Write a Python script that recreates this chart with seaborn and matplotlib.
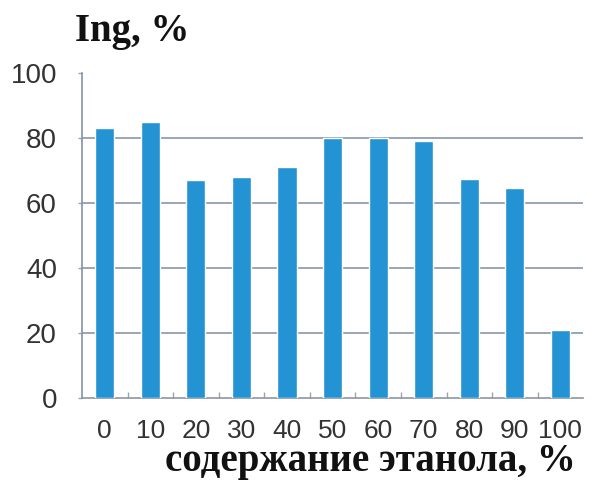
import matplotlib
matplotlib.use("Agg")
import matplotlib.pyplot as plt
import seaborn as sns
import pandas as pd

# Ethanol content (%) and inhibition values
ethanol = ["0", "10", "20", "30", "40", "50", "60", "70", "80", "90", "100"]
inhibition = [83, 85, 67, 68, 71, 80, 80, 79, 67.5, 64.5, 21]
y_ticks = [0, 20, 40, 60, 80, 100]

df = pd.DataFrame({"ethanol": ethanol, "inhibition": inhibition})

sns.set_theme(style="white")
plt.rcParams["font.family"] = ["Liberation Sans", "DejaVu Sans"]

fig = plt.figure(figsize=(6.01, 4.84), dpi=100)
ax = fig.add_axes([0.1364, 0.1777, 0.834, 0.6715])

sns.barplot(data=df, x="ethanol", y="inhibition", order=ethanol,
            color="#2393d3", saturation=1, width=0.42, ax=ax, zorder=3)

ax.set_ylim(0, 100)
ax.set_xlim(-0.5, len(ethanol) - 0.5)
ax.set_yticks(y_ticks)
ax.set_yticklabels([str(v) for v in y_ticks])

# horizontal gridlines (no line at the top)
for v in y_ticks[1:-1]:
    ax.axhline(v, color="#8797aa", lw=1.2, zorder=1)

for side in ["top", "right"]:
    ax.spines[side].set_visible(False)
ax.spines["left"].set_color("#8494a8")
ax.spines["left"].set_linewidth(1.2)
ax.spines["bottom"].set_color("#8c96a2")
ax.spines["bottom"].set_linewidth(1.2)

ax.tick_params(axis="y", which="major", left=True, length=3, width=1,
               color="#9aa4b0", pad=15, labelsize=20, labelcolor="#333333")
ax.tick_params(axis="x", which="major", bottom=False, pad=9,
               labelsize=19, labelcolor="#333333")

# small tick marks between categories
ax.set_xticks([i + 0.5 for i in range(len(ethanol) - 1)], minor=True)
ax.tick_params(axis="x", which="minor", bottom=True, direction="in",
               length=4, width=1, color="#9aa4b0")

ax.set_xlabel("")
ax.set_ylabel("")

fig.text(0.124, 0.935, "Ing, %", fontsize=28, fontweight="bold",
         family=["Liberation Serif", "DejaVu Serif"], color="#111111",
         ha="left", va="center")
fig.text(0.958, 0.026, "содержание этанола, %", fontsize=28,
         fontweight="bold", family=["Liberation Serif", "DejaVu Serif"],
         color="#111111", ha="right", va="baseline")

fig.savefig("out.png", dpi=100)
